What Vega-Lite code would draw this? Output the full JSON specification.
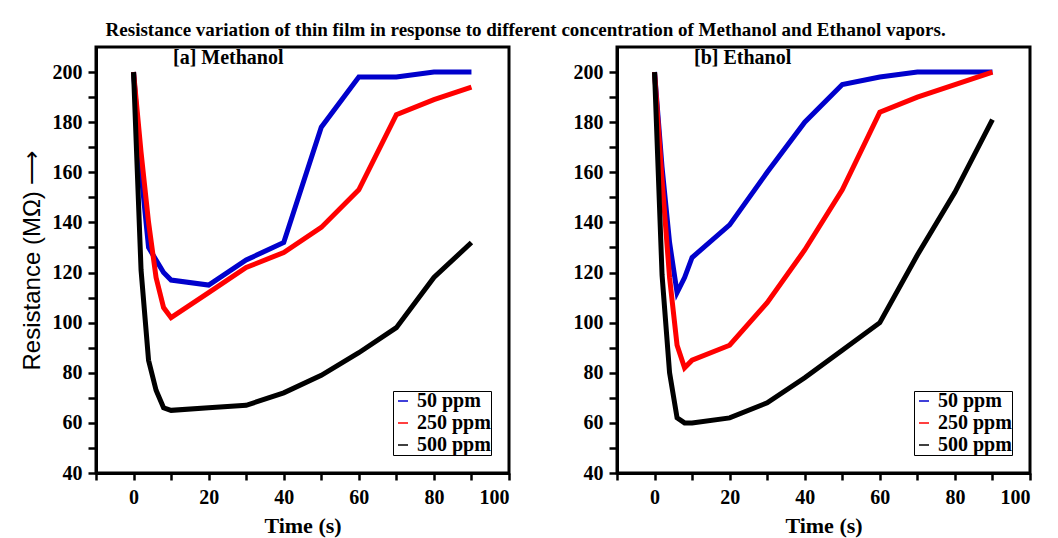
{
  "$schema": "https://vega.github.io/schema/vega-lite/v6.json",
  "background": "white",
  "padding": {"left": 18, "top": 20, "right": 25, "bottom": 0},
  "title": {"text": "Resistance variation of thin film in response to different concentration of Methanol and Ethanol vapors.", "font": "Liberation Serif", "fontWeight": "bold", "fontSize": 19, "color": "black", "anchor": "middle", "offset": 6},
  "datasets": {
    "methanol": [
      {"t": 0, "r": 200, "c": "50 ppm"}, {"t": 2, "r": 160, "c": "50 ppm"}, {"t": 4, "r": 130, "c": "50 ppm"}, {"t": 6, "r": 125, "c": "50 ppm"}, {"t": 8, "r": 120, "c": "50 ppm"}, {"t": 10, "r": 117, "c": "50 ppm"}, {"t": 20, "r": 115, "c": "50 ppm"}, {"t": 30, "r": 125, "c": "50 ppm"}, {"t": 40, "r": 132, "c": "50 ppm"}, {"t": 50, "r": 178, "c": "50 ppm"}, {"t": 60, "r": 198, "c": "50 ppm"}, {"t": 70, "r": 198, "c": "50 ppm"}, {"t": 80, "r": 200, "c": "50 ppm"}, {"t": 90, "r": 200, "c": "50 ppm"},
      {"t": 0, "r": 200, "c": "250 ppm"}, {"t": 2, "r": 168, "c": "250 ppm"}, {"t": 4, "r": 140, "c": "250 ppm"}, {"t": 6, "r": 118, "c": "250 ppm"}, {"t": 8, "r": 106, "c": "250 ppm"}, {"t": 10, "r": 102, "c": "250 ppm"}, {"t": 20, "r": 112, "c": "250 ppm"}, {"t": 30, "r": 122, "c": "250 ppm"}, {"t": 40, "r": 128, "c": "250 ppm"}, {"t": 50, "r": 138, "c": "250 ppm"}, {"t": 60, "r": 153, "c": "250 ppm"}, {"t": 70, "r": 183, "c": "250 ppm"}, {"t": 80, "r": 189, "c": "250 ppm"}, {"t": 90, "r": 194, "c": "250 ppm"},
      {"t": 0, "r": 200, "c": "500 ppm"}, {"t": 2, "r": 121, "c": "500 ppm"}, {"t": 4, "r": 85, "c": "500 ppm"}, {"t": 6, "r": 73, "c": "500 ppm"}, {"t": 8, "r": 66, "c": "500 ppm"}, {"t": 10, "r": 65, "c": "500 ppm"}, {"t": 20, "r": 66, "c": "500 ppm"}, {"t": 30, "r": 67, "c": "500 ppm"}, {"t": 40, "r": 72, "c": "500 ppm"}, {"t": 50, "r": 79, "c": "500 ppm"}, {"t": 60, "r": 88, "c": "500 ppm"}, {"t": 70, "r": 98, "c": "500 ppm"}, {"t": 80, "r": 118, "c": "500 ppm"}, {"t": 90, "r": 132, "c": "500 ppm"}
    ],
    "ethanol": [
      {"t": 0, "r": 200, "c": "50 ppm"}, {"t": 2, "r": 162, "c": "50 ppm"}, {"t": 4, "r": 132, "c": "50 ppm"}, {"t": 6, "r": 112, "c": "50 ppm"}, {"t": 8, "r": 118, "c": "50 ppm"}, {"t": 10, "r": 126, "c": "50 ppm"}, {"t": 20, "r": 139, "c": "50 ppm"}, {"t": 30, "r": 160, "c": "50 ppm"}, {"t": 40, "r": 180, "c": "50 ppm"}, {"t": 50, "r": 195, "c": "50 ppm"}, {"t": 60, "r": 198, "c": "50 ppm"}, {"t": 70, "r": 200, "c": "50 ppm"}, {"t": 80, "r": 200, "c": "50 ppm"}, {"t": 90, "r": 200, "c": "50 ppm"},
      {"t": 0, "r": 200, "c": "250 ppm"}, {"t": 2, "r": 157, "c": "250 ppm"}, {"t": 4, "r": 118, "c": "250 ppm"}, {"t": 6, "r": 91, "c": "250 ppm"}, {"t": 8, "r": 82, "c": "250 ppm"}, {"t": 10, "r": 85, "c": "250 ppm"}, {"t": 20, "r": 91, "c": "250 ppm"}, {"t": 30, "r": 108, "c": "250 ppm"}, {"t": 40, "r": 129, "c": "250 ppm"}, {"t": 50, "r": 153, "c": "250 ppm"}, {"t": 60, "r": 184, "c": "250 ppm"}, {"t": 70, "r": 190, "c": "250 ppm"}, {"t": 80, "r": 195, "c": "250 ppm"}, {"t": 90, "r": 200, "c": "250 ppm"},
      {"t": 0, "r": 200, "c": "500 ppm"}, {"t": 2, "r": 119, "c": "500 ppm"}, {"t": 4, "r": 80, "c": "500 ppm"}, {"t": 6, "r": 62, "c": "500 ppm"}, {"t": 8, "r": 60, "c": "500 ppm"}, {"t": 10, "r": 60, "c": "500 ppm"}, {"t": 20, "r": 62, "c": "500 ppm"}, {"t": 30, "r": 68, "c": "500 ppm"}, {"t": 40, "r": 78, "c": "500 ppm"}, {"t": 50, "r": 89, "c": "500 ppm"}, {"t": 60, "r": 100, "c": "500 ppm"}, {"t": 70, "r": 127, "c": "500 ppm"}, {"t": 80, "r": 152, "c": "500 ppm"}, {"t": 90, "r": 181, "c": "500 ppm"}
    ]
  },
  "bounds": "flush",
  "spacing": 108,
  "resolve": {"scale": {"color": "independent"}, "legend": {"color": "independent"}},
  "hconcat": [
    {
      "width": 413, "height": 426,
      "title": {"text": "[a] Methanol", "font": "Liberation Serif", "fontWeight": "bold", "fontSize": 20, "color": "black", "anchor": "start", "frame": "group", "dx": 77, "offset": -21},
      "data": {"name": "methanol"},
      "mark": {"type": "line", "strokeWidth": 5},
      "encoding": {
        "x": {"field": "t", "type": "quantitative", "scale": {"domain": [-10, 100], "nice": false, "zero": false},
          "axis": {"values": [-10, 0, 10, 20, 30, 40, 50, 60, 70, 80, 90, 100], "labelExpr": "datum.value % 20 === 0 ? datum.label : ''", "labelOverlap": false, "labelPadding": 7, "tickSize": 7, "title": "Time (s)", "titleFont": "Liberation Serif", "titleFontWeight": "bold", "titleFontSize": 22, "titlePadding": 8}},
        "y": {"field": "r", "type": "quantitative", "scale": {"domain": [40, 210], "nice": false, "zero": false},
          "axis": {"values": [40, 50, 60, 70, 80, 90, 100, 110, 120, 130, 140, 150, 160, 170, 180, 190, 200], "labelExpr": "datum.value % 20 === 0 ? datum.label : ''", "labelOverlap": false, "labelPadding": 6, "tickSize": 8, "title": "Resistance (MΩ) ⟶", "titleFont": "Liberation Sans", "titleFontWeight": "normal", "titleFontSize": 24, "titlePadding": 8}},
        "color": {"field": "c", "type": "nominal", "scale": {"domain": ["50 ppm", "250 ppm", "500 ppm"], "range": ["#0000cc", "#ff0000", "#000000"]},
          "legend": {"title": null, "orient": "bottom-right", "labelFont": "Liberation Serif", "labelFontWeight": "bold", "labelFontSize": 20, "labelColor": "black", "fillColor": "white", "strokeColor": "black"}}
      }
    },
    {
      "width": 413, "height": 426,
      "title": {"text": "[b] Ethanol", "font": "Liberation Serif", "fontWeight": "bold", "fontSize": 20, "color": "black", "anchor": "start", "frame": "group", "dx": 77, "offset": -21},
      "data": {"name": "ethanol"},
      "mark": {"type": "line", "strokeWidth": 5},
      "encoding": {
        "x": {"field": "t", "type": "quantitative", "scale": {"domain": [-10, 100], "nice": false, "zero": false},
          "axis": {"values": [-10, 0, 10, 20, 30, 40, 50, 60, 70, 80, 90, 100], "labelExpr": "datum.value % 20 === 0 ? datum.label : ''", "labelOverlap": false, "labelPadding": 7, "tickSize": 7, "title": "Time (s)", "titleFont": "Liberation Serif", "titleFontWeight": "bold", "titleFontSize": 22, "titlePadding": 8}},
        "y": {"field": "r", "type": "quantitative", "scale": {"domain": [40, 210], "nice": false, "zero": false},
          "axis": {"values": [40, 50, 60, 70, 80, 90, 100, 110, 120, 130, 140, 150, 160, 170, 180, 190, 200], "labelExpr": "datum.value % 20 === 0 ? datum.label : ''", "labelOverlap": false, "labelPadding": 6, "tickSize": 8, "title": null}},
        "color": {"field": "c", "type": "nominal", "scale": {"domain": ["50 ppm", "250 ppm", "500 ppm"], "range": ["#0000cc", "#ff0000", "#000000"]},
          "legend": {"title": null, "orient": "bottom-right", "labelFont": "Liberation Serif", "labelFontWeight": "bold", "labelFontSize": 20, "labelColor": "black", "fillColor": "white", "strokeColor": "black"}}
      }
    }
  ],
  "config": {
    "view": {"stroke": "black", "strokeWidth": 3},
    "axis": {"domainColor": "black", "domainWidth": 3, "tickColor": "black", "tickWidth": 2.5, "labelFont": "Liberation Serif", "labelFontWeight": "bold", "labelFontSize": 20, "labelColor": "black", "titleColor": "black", "grid": false}
  }
}
